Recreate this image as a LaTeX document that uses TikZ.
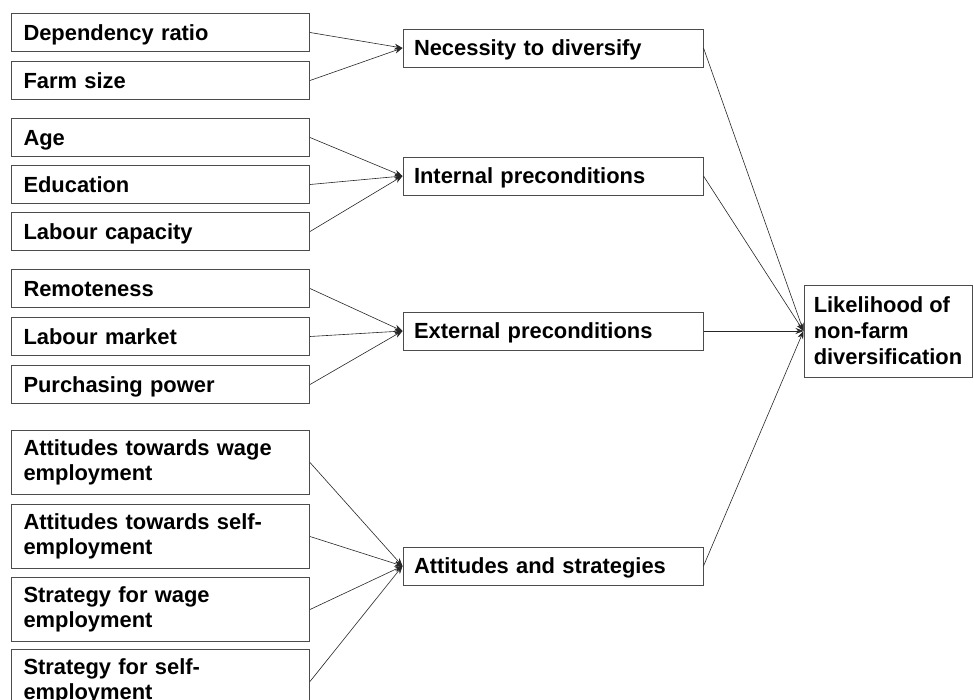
\documentclass[tikz,border=0pt]{standalone}
\usepackage{fontspec}
\setmainfont{Liberation Sans}
\usepackage{tikz}
\usetikzlibrary{positioning, arrows.meta}

\definecolor{boxgray}{gray}{0.3}
\definecolor{linegray}{gray}{0.15}

\begin{document}
\begin{tikzpicture}[x=1pt, y=-1pt, ->, >={Stealth[length=8pt,width=6pt]}, node distance=9pt,
		every edge/.style={draw=linegray, line width=0.6pt},
		box/.style={draw=boxgray, line width=1pt, text width=274pt, inner xsep=12pt, inner ysep=0pt, align=left, font=\bfseries\fontsize{21.9}{25}\selectfont},
		factor/.style={box, minimum height=38pt, text depth=0pt},
		tall/.style={box, minimum height=64pt},
		group/.style={factor, text width=278pt, inner xsep=11pt},
		result/.style={draw=boxgray, line width=1pt, inner sep=0pt, minimum width=168pt, minimum height=92pt, align=left, font=\bfseries\fontsize{21.9}{26}\selectfont}]
	\useasboundingbox (0,0) rectangle (974,699);

	\node[factor, anchor=north west] (dep) at (11,13) {Dependency ratio};
	\node[factor, below=of dep]         (farm) {Farm size};
	\node[factor, below=18pt of farm]   (age)  {Age};
	\node[factor, below=8pt of age]     (edu)  {Education};
	\node[factor, below=8pt of edu]     (lab)  {Labour capacity};
	\node[factor, below=18pt of lab]    (rem)  {Remoteness};
	\node[factor, below=of rem]         (mkt)  {Labour market};
	\node[factor, below=of mkt]         (pur)  {Purchasing power};
	\node[tall, below=26pt of pur]      (attw) {Attitudes towards wage\\employment};
	\node[tall, below=of attw]          (atts) {Attitudes towards self-\\employment};
	\node[tall, below=8pt of atts]      (strw) {Strategy for wage\\employment};
	\node[tall, below=7pt of strw]      (strs) {Strategy for self-\\employment};

	\node[group] (nec) at (553,48)  {Necessity to diversify};
	\node[group] (int) at (553,176) {Internal preconditions};
	\node[group] (ext) at (553,331) {External preconditions};
	\node[group] (att) at (553,566) {Attitudes and strategies};

	\node[result] (lik) at (888,331) {Likelihood of\\non-farm\\diversification};

	\path (dep.east)  edge (nec.west)
	      (farm.east) edge (nec.west)
	      (age.east)  edge (int.west)
	      (edu.east)  edge (int.west)
	      (lab.east)  edge (int.west)
	      (rem.east)  edge (ext.west)
	      (mkt.east)  edge (ext.west)
	      (pur.east)  edge (ext.west)
	      (attw.east) edge (att.west)
	      (atts.east) edge (att.west)
	      (strw.east) edge (att.west)
	      (strs.east) edge (att.west)
	      (nec.east)  edge (lik.west)
	      (int.east)  edge (lik.west)
	      (ext.east)  edge (lik.west)
	      (att.east)  edge (lik.west);
\end{tikzpicture}
\end{document}
